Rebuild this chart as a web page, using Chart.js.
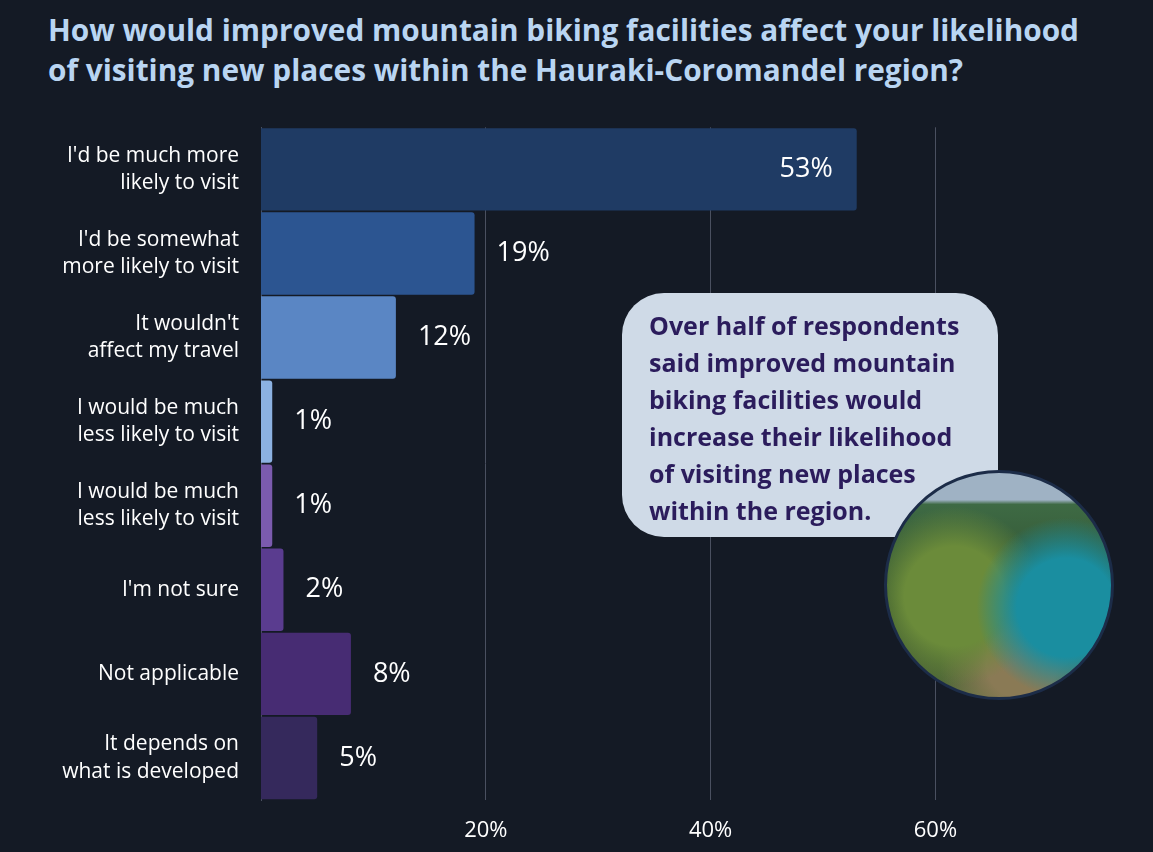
<!DOCTYPE html>
<html>
<head>
<meta charset="utf-8">
<script src="https://cdn.jsdelivr.net/npm/chart.js@4"></script>
<style>
  body { margin: 0; background: #141a25; width: 1153px; height: 852px; overflow: hidden; position: relative; font-family: 'Open Sans', sans-serif; }
  h1 { position: absolute; left: 48px; top: 10px; margin: 0; color: #b9d5f2; font: bold 29.8px/40px 'Open Sans', sans-serif; }
  #wrap { position: absolute; left: 0; top: 86px; width: 1153px; height: 766px; }
  .callout { position: absolute; left: 622px; top: 293px; width: 376px; height: 244px; background: #cfdae7; border-radius: 42px;
    box-sizing: border-box; padding: 14px 20px 0 27px; color: #2b1c5c; font: bold 25px/37px 'Open Sans', sans-serif; }
  .photo { position: absolute; left: 884px; top: 470px; width: 230px; height: 230px; border-radius: 50%; border: 3px solid #1c2c48; box-sizing: border-box;
    background: radial-gradient(circle at 80% 60%, #1a8ea0 0 22%, transparent 40%),
                radial-gradient(circle at 30% 55%, #6b8b3a 0 25%, transparent 45%),
                radial-gradient(circle at 60% 85%, #8a7a55 0 15%, transparent 35%),
                linear-gradient(180deg, #9fb2c4 0 12%, #3e6a44 14%, #2d4c2c 60%, #556b3a 100%); }
</style>
</head>
<body>
<h1>How would improved mountain biking facilities affect your likelihood<br>of visiting new places within the Hauraki-Coromandel region?</h1>
<div id="wrap"><canvas id="grafico"></canvas></div>
<div class="callout">Over half of respondents said improved mountain biking facilities would increase their likelihood of visiting new places within the region.</div>
<div class="photo"></div>
<script>
const categorias = [
  ["I'd be much more", "likely to visit"],
  ["I'd be somewhat", "more likely to visit"],
  ["It wouldn't", "affect my travel"],
  ["I would be much", "less likely to visit"],
  ["I would be much", "less likely to visit"],
  ["I'm not sure"],
  ["Not applicable"],
  ["It depends on", "what is developed"]
];
const valores = [53, 19, 12, 1, 1, 2, 8, 5];
const cores = ['#1f3b64', '#2c5591', '#5a86c4', '#8cb2e2', '#7b5bae', '#5a3c8f', '#472c73', '#35295c'];
const ticksX = [20, 40, 60];

const rotulos = {
  id: 'rotulos',
  afterDatasetsDraw(chart) {
    const c = chart.ctx;
    const meta = chart.getDatasetMeta(0);
    c.save();
    c.fillStyle = '#ffffff';
    c.font = '27px "Open Sans", sans-serif';
    c.textBaseline = 'middle';
    meta.data.forEach(function(bar, i) {
      if (valores[i] > 40) {
        c.textAlign = 'right';
        c.fillText(valores[i] + '%', bar.x - 24, bar.y);
      } else {
        c.textAlign = 'left';
        c.fillText(valores[i] + '%', bar.x + 22, bar.y);
      }
    });
    c.restore();
  }
};

document.addEventListener('DOMContentLoaded', function() {
  const ctx = document.getElementById('grafico').getContext('2d');
  new Chart(ctx, {
    type: 'bar',
    data: {
      labels: categorias,
      datasets: [{ data: valores, backgroundColor: cores, borderRadius: 3, barPercentage: 1, categoryPercentage: 0.98 }]
    },
    plugins: [rotulos],
    options: {
      indexAxis: 'y',
      responsive: true,
      maintainAspectRatio: false,
      animation: false,
      layout: { padding: { top: 16, right: 49, left: 0, bottom: 0 } },
      plugins: { legend: { display: false }, tooltip: { enabled: false } },
      scales: {
        x: {
          min: 0, max: 75,
          afterBuildTicks(s) { s.ticks = ticksX.map(v => ({ value: v })); },
          afterFit(s) { s.height = 52; },
          ticks: { color: '#ffffff', font: { size: 22, family: 'Open Sans' }, padding: 18, callback: v => v + '%' },
          grid: { color: '#4a5060', drawTicks: false },
          border: { display: false }
        },
        y: {
          afterFit(s) { s.width = 261; },
          ticks: { color: '#ffffff', font: { size: 21, family: 'Open Sans', lineHeight: 1.3 }, padding: 14 },
          grid: { display: false },
          border: { display: true, color: '#4a5060' }
        }
      }
    }
  });
});
</script>
</body>
</html>
